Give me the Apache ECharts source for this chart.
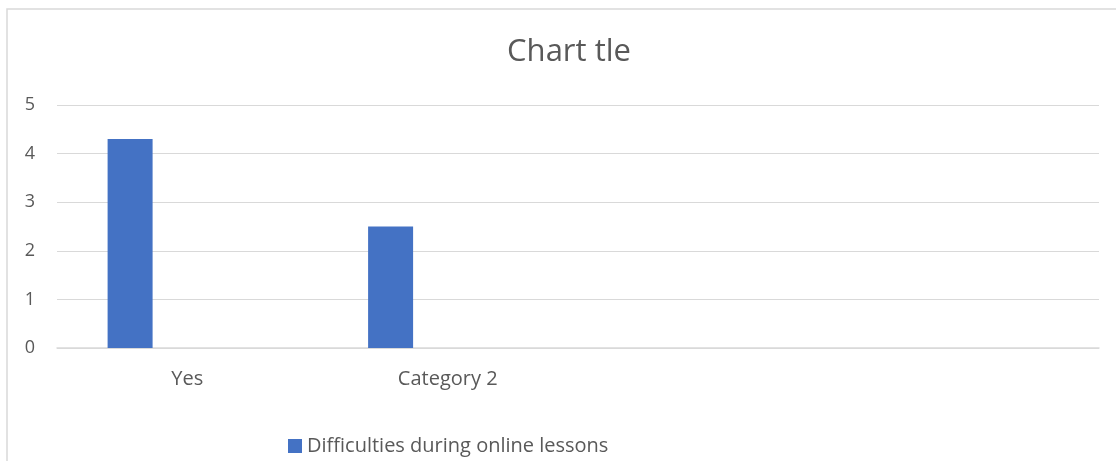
<!DOCTYPE html>
<html>
<head>
<meta charset="utf-8">
<script src="https://cdn.jsdelivr.net/npm/echarts@6/dist/echarts.min.js"></script>
<style>
html,body{margin:0;padding:0;background:#fff;}
#chart{width:1116px;height:461px;}
</style>
</head>
<body>
<div id="chart"></div>
<script>
const categories = ["Yes", "Category 2", "", ""];
const seriesNames = ["Difficulties during online lessons", "Series 2", "Series 3"];
const series1Values = [4.3, 2.5, null, null];
const series2Values = [null, null, null, null];
const series3Values = [null, null, null, null];
const yTicks = [0, 1, 2, 3, 4, 5];
const titleText = "Chart tle";

const FONT = "'Open Sans', sans-serif";
const TXT = "#595959";
const chart = echarts.init(document.getElementById('chart'), null, {renderer: 'canvas'});
const barCommon = {type: 'bar', barWidth: 45, barGap: '27%'};
chart.setOption({
  animation: false,
  backgroundColor: '#fff',
  title: {
    text: titleText,
    left: 564, top: 32, textAlign: 'center',
    textStyle: {fontFamily: FONT, fontSize: 31, fontWeight: 'normal', color: TXT}
  },
  legend: {
    data: [seriesNames[0]],
    left: 283, top: 431,
    icon: 'rect', itemWidth: 14, itemHeight: 14, itemGap: 10,
    textStyle: {fontFamily: FONT, fontSize: 20, color: TXT}
  },
  graphic: [{
    type: 'rect', silent: true,
    shape: {x: 7, y: 9, width: 1300, height: 600},
    style: {fill: 'none', stroke: '#d9d9d9', lineWidth: 1.5}
  }],
  grid: {left: 57, right: 17, top: 105, bottom: 113, containLabel: false},
  xAxis: {
    type: 'category', data: categories,
    axisLine: {show: true, lineStyle: {color: '#d9d9d9', width: 1.5}},
    axisTick: {show: false},
    axisLabel: {fontFamily: FONT, fontSize: 20, color: TXT, margin: 21}
  },
  yAxis: {
    type: 'value', min: yTicks[0], max: yTicks[yTicks.length - 1], interval: 1,
    axisLine: {show: false}, axisTick: {show: false},
    splitLine: {lineStyle: {color: '#d9d9d9', width: 1.2}},
    axisLabel: {fontFamily: FONT, fontSize: 18, color: TXT, margin: 22}
  },
  series: [
    Object.assign({name: seriesNames[0], data: series1Values, itemStyle: {color: '#4472C4'}}, barCommon),
    Object.assign({name: seriesNames[1], data: series2Values, itemStyle: {color: '#ED7D31'}}, barCommon),
    Object.assign({name: seriesNames[2], data: series3Values, itemStyle: {color: '#A5A5A5'}}, barCommon)
  ]
});
</script>
</body>
</html>
